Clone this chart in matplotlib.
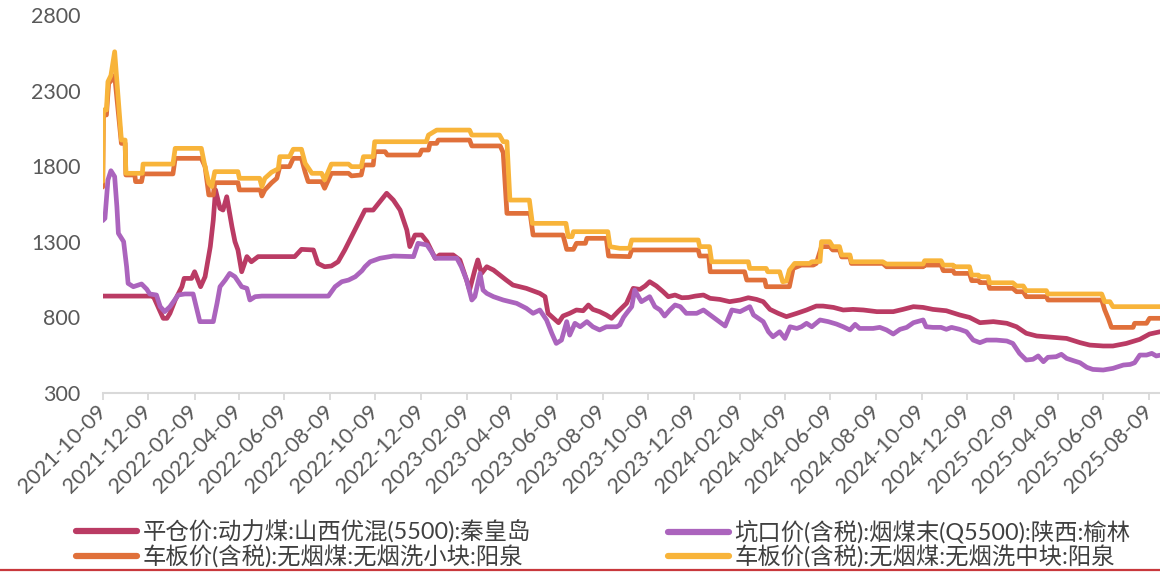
import matplotlib
matplotlib.use('Agg')
import matplotlib.pyplot as plt
import pandas as pd
from matplotlib.lines import Line2D

plt.rcParams['font.family'] = ['Lato', 'Noto Sans CJK SC', 'DejaVu Sans']

START = '2021-10-09'

# 平仓价:动力煤:山西优混(5500):秦皇岛  (days since START, value)
qhd_days = [0, 65, 68, 74, 81, 86, 90, 97, 106, 109, 119, 123, 131, 137, 144, 148, 151, 157, 161, 166,
            173, 177, 181, 186, 193, 199, 208, 257, 266, 282, 288, 297, 306, 315, 324, 333, 342, 351, 362,
            380, 389, 398, 407, 411, 418, 427, 434, 445, 451, 469, 478, 487, 491, 498, 502, 507, 514, 523,
            540, 549, 558, 567, 585, 592, 596, 610, 616, 625, 634, 643, 650, 656, 665, 674, 681, 690, 701,
            710, 719, 726, 732, 741, 750, 757, 766, 775, 784, 793, 804, 813, 826, 839, 853, 864, 875, 884,
            893, 904, 915, 929, 942, 955, 964, 978, 991, 1004, 1018, 1036, 1049, 1058, 1071, 1085, 1098,
            1111, 1129, 1147, 1160, 1174, 1192, 1210, 1223, 1236, 1250, 1272, 1290, 1308, 1321, 1339, 1352,
            1370, 1388, 1401, 1415]
qhd_vals = [941, 941, 937, 871, 794, 794, 827, 915, 1003, 1058, 1058, 1102, 1003, 1069, 1268, 1444, 1643,
            1521, 1510, 1598, 1400, 1301, 1246, 1102, 1202, 1168, 1202, 1202, 1250, 1246, 1157, 1135, 1140,
            1168, 1246, 1334, 1422, 1510, 1510, 1621, 1576, 1510, 1378, 1268, 1345, 1345, 1301, 1191, 1213,
            1213, 1180, 1047, 981, 1113, 1180, 1091, 1135, 1113, 1047, 1014, 1003, 992, 959, 937, 827, 765,
            809, 827, 849, 844, 882, 853, 838, 816, 794, 840, 893, 992, 985, 1008, 1036, 1008, 970, 937, 948,
            930, 932, 941, 948, 926, 919, 904, 915, 930, 919, 904, 853, 827, 805, 827, 849, 875, 875, 866,
            849, 853, 849, 838, 838, 838, 853, 871, 866, 853, 844, 816, 800, 765, 772, 761, 738, 695, 677,
            668, 661, 633, 617, 611, 611, 628, 655, 690, 705]

# 坑口价(含税):烟煤末(Q5500):陕西:榆林
yl_days = [0, 3, 7, 11, 16, 19, 21, 28, 32, 34, 41, 52, 59, 63, 72, 77, 83, 90, 101, 110, 121, 124, 130,
           148, 153, 157, 164, 170, 177, 186, 193, 197, 204, 213, 302, 311, 320, 329, 338, 347, 351, 358,
           371, 389, 416, 422, 434, 440, 445, 451, 474, 480, 487, 494, 498, 505, 509, 514, 523, 536, 554,
           567, 576, 585, 594, 601, 607, 614, 621, 625, 632, 639, 648, 656, 665, 674, 688, 692, 697, 701,
           708, 712, 717, 721, 732, 739, 746, 752, 759, 766, 773, 781, 795, 804, 813, 822, 833, 842, 853,
           866, 871, 884, 891, 897, 906, 913, 920, 929, 935, 942, 949, 960, 971, 982, 991, 1000, 1007, 1013,
           1031, 1040, 1049, 1058, 1067, 1076, 1085, 1098, 1102, 1111, 1122, 1129, 1136, 1147, 1156, 1165,
           1174, 1183, 1196, 1210, 1218, 1227, 1236, 1245, 1252, 1259, 1265, 1276, 1283, 1290, 1299, 1308,
           1317, 1325, 1339, 1352, 1366, 1375, 1381, 1388, 1397, 1404, 1410, 1415]
yl_vals = [1440, 1455, 1709, 1770, 1731, 1532, 1356, 1301, 1135, 1025, 1003, 1021, 986, 955, 948, 871, 838,
           871, 948, 955, 955, 893, 772, 772, 893, 1003, 1047, 1091, 1069, 1003, 992, 915, 937, 941, 941,
           1003, 1036, 1047, 1069, 1109, 1135, 1168, 1191, 1206, 1202, 1290, 1279, 1235, 1191, 1191, 1191,
           1135, 1047, 915, 937, 1091, 981, 959, 937, 915, 893, 860, 827, 849, 783, 695, 628, 650, 772, 683,
           761, 738, 772, 738, 717, 738, 738, 750, 800, 827, 871, 981, 937, 904, 937, 871, 849, 809, 849,
           882, 871, 827, 827, 849, 816, 783, 743, 849, 838, 871, 816, 772, 705, 672, 705, 661, 738, 727,
           738, 761, 738, 783, 772, 756, 738, 717, 754, 727, 727, 734, 717, 690, 721, 734, 765, 783, 738,
           734, 734, 721, 734, 721, 705, 650, 633, 650, 650, 644, 628, 562, 518, 523, 545, 507, 536, 540,
           556, 529, 514, 500, 470, 456, 452, 463, 485, 489, 500, 551, 551, 562, 545, 550]

# 车板价(含税):无烟煤:无烟洗小块:阳泉
xk_days = [0, 1, 5, 8, 12, 16, 25, 30, 31, 43, 44, 52, 54, 94, 97, 132, 137, 142, 148, 150, 181, 183, 211,
           213, 217, 226, 233, 237, 250, 255, 266, 271, 275, 293, 297, 306, 329, 333, 346, 349, 362, 364,
           378, 381, 424, 427, 436, 438, 447, 449, 491, 494, 532, 536, 541, 572, 576, 616, 621, 630, 634,
           646, 648, 674, 677, 705, 708, 797, 799, 811, 813, 859, 862, 886, 888, 919, 924, 935, 951, 955,
           962, 973, 977, 986, 989, 1000, 1002, 1044, 1049, 1098, 1100, 1122, 1125, 1138, 1140, 1160, 1163,
           1172, 1174, 1185, 1187, 1218, 1223, 1232, 1236, 1263, 1265, 1337, 1341, 1346, 1350, 1379, 1381,
           1397, 1401, 1415]
xk_vals = [1662, 2139, 2139, 2348, 2370, 2400, 1951, 1951, 1742, 1742, 1698, 1698, 1749, 1749, 1852, 1852,
           1797, 1610, 1610, 1691, 1691, 1643, 1643, 1603, 1643, 1690, 1720, 1797, 1797, 1852, 1852, 1760,
           1698, 1698, 1654, 1753, 1753, 1736, 1742, 1808, 1808, 1896, 1896, 1874, 1874, 1907, 1907, 1951,
           1951, 1973, 1973, 1934, 1934, 1890, 1488, 1488, 1345, 1345, 1250, 1250, 1290, 1290, 1323, 1323,
           1206, 1202, 1246, 1246, 1206, 1206, 1102, 1102, 1047, 1047, 1003, 1003, 1124, 1146, 1146, 1157,
           1268, 1268, 1246, 1246, 1200, 1200, 1157, 1157, 1135, 1135, 1146, 1146, 1109, 1109, 1091, 1091,
           1043, 1043, 1030, 1030, 992, 992, 970, 970, 937, 937, 915, 915, 850, 790, 734, 734, 761, 761,
           794, 794]

# 车板价(含税):无烟煤:无烟洗中块:阳泉
zk_days = [0, 1, 5, 7, 11, 16, 25, 30, 31, 53, 54, 94, 97, 132, 136, 142, 146, 150, 181, 183, 210, 213,
           217, 226, 235, 237, 250, 255, 266, 271, 280, 293, 297, 306, 329, 333, 346, 349, 362, 364, 433,
           436, 447, 491, 494, 531, 536, 541, 545, 571, 575, 620, 623, 628, 630, 676, 679, 692, 705, 708,
           797, 799, 812, 815, 864, 866, 888, 890, 906, 910, 915, 919, 926, 946, 949, 960, 962, 973, 977,
           986, 989, 1000, 1002, 1044, 1049, 1098, 1100, 1122, 1125, 1138, 1140, 1160, 1163, 1172, 1174,
           1185, 1187, 1218, 1223, 1232, 1236, 1263, 1265, 1337, 1341, 1348, 1352, 1415]
zk_vals = [1700, 2172, 2172, 2359, 2400, 2557, 1973, 1973, 1753, 1753, 1814, 1814, 1918, 1918, 1819, 1687,
           1665, 1764, 1764, 1720, 1720, 1665, 1720, 1760, 1783, 1863, 1863, 1912, 1912, 1819, 1753, 1753,
           1709, 1814, 1814, 1797, 1797, 1863, 1863, 1962, 1962, 2006, 2039, 2039, 2006, 2006, 1962, 1962,
           1576, 1576, 1422, 1422, 1334, 1334, 1367, 1367, 1268, 1257, 1257, 1312, 1312, 1268, 1268, 1168,
           1168, 1124, 1124, 1102, 1102, 1036, 1040, 1113, 1157, 1157, 1168, 1170, 1301, 1301, 1268, 1268,
           1213, 1213, 1168, 1168, 1153, 1153, 1175, 1175, 1146, 1146, 1135, 1135, 1080, 1080, 1069, 1069,
           1029, 1029, 1008, 1008, 977, 977, 955, 955, 904, 904, 871, 871]

series_names = ['平仓价:动力煤:山西优混(5500):秦皇岛',
                '坑口价(含税):烟煤末(Q5500):陕西:榆林',
                '车板价(含税):无烟煤:无烟洗小块:阳泉',
                '车板价(含税):无烟煤:无烟洗中块:阳泉']
series_colors = ['#BA3B64', '#AB64BD', '#E0703A', '#F8B43A']

tick_labels = ['2021-10-09', '2021-12-09', '2022-02-09', '2022-04-09', '2022-06-09', '2022-08-09',
               '2022-10-09', '2022-12-09', '2023-02-09', '2023-04-09', '2023-06-09', '2023-08-09',
               '2023-10-09', '2023-12-09', '2024-02-09', '2024-04-09', '2024-06-09', '2024-08-09',
               '2024-10-09', '2024-12-09', '2025-02-09', '2025-04-09', '2025-06-09', '2025-08-09']
y_ticks = [300, 800, 1300, 1800, 2300, 2800]

start = pd.Timestamp(START)


def to_dates(days):
    return start + pd.to_timedelta(days, unit='D')


W, H = 1160, 572
fig = plt.figure(figsize=(W / 100, H / 100), dpi=100)
ax = fig.add_axes([102.7 / W, 1 - 393 / H, (W - 102.7) / W, (393 - 15) / H])

all_days = [qhd_days, yl_days, xk_days, zk_days]
all_vals = [qhd_vals, yl_vals, xk_vals, zk_vals]
lines = []
for d, v, name, c in zip(all_days, all_vals, series_names, series_colors):
    ln, = ax.plot(to_dates(d), v, color=c, lw=3.4, label=name, solid_joinstyle='round',
                  solid_capstyle='round')
    lines.append(ln)

ax.set_ylim(300, 2800)
ax.set_yticks(y_ticks)
ax.set_xlim(start, to_dates([max(qhd_days)])[0])
ax.set_xticks(pd.to_datetime(tick_labels))
ax.set_xticklabels(tick_labels)

for s in ['top', 'right', 'left']:
    ax.spines[s].set_visible(False)
ax.spines['bottom'].set_color('#d9d9d9')
ax.spines['bottom'].set_linewidth(1.5)

ax.tick_params(axis='y', length=0, pad=16, labelsize=15.5, labelcolor='#595959')
ax.tick_params(axis='x', length=5, width=1.3, color='#d9d9d9', direction='out', pad=6,
               labelsize=15.5, labelcolor='#595959')
for lab in ax.get_xticklabels():
    lab.set_rotation(45)
    lab.set_ha('right')
    lab.set_va('center')
    lab.set_rotation_mode('anchor')

leg_kw = dict(frameon=False, handlelength=2.6, handletextpad=0.25, labelspacing=0.08,
              borderpad=0, borderaxespad=0, loc='upper left',
              prop={'family': ['Lato', 'Noto Sans CJK SC'], 'size': 16.8})
leg1 = fig.legend([lines[0], lines[2]], [series_names[0], series_names[2]],
                  bbox_to_anchor=(76 / W, 1 - 520 / H), **leg_kw)
leg2 = fig.legend([lines[1], lines[3]], [series_names[1], series_names[3]],
                  bbox_to_anchor=(668 / W, 1 - 520 / H), **leg_kw)
for leg in (leg1, leg2):
    for t in leg.get_texts():
        t.set_color('#404040')
    for h in leg.legend_handles:
        h.set_linewidth(4.5)

fig.add_artist(Line2D([0, 1], [1 - 570 / H, 1 - 570 / H], transform=fig.transFigure,
                      color='#C8383C', lw=1.6))

fig.savefig('out.png', dpi=100)
